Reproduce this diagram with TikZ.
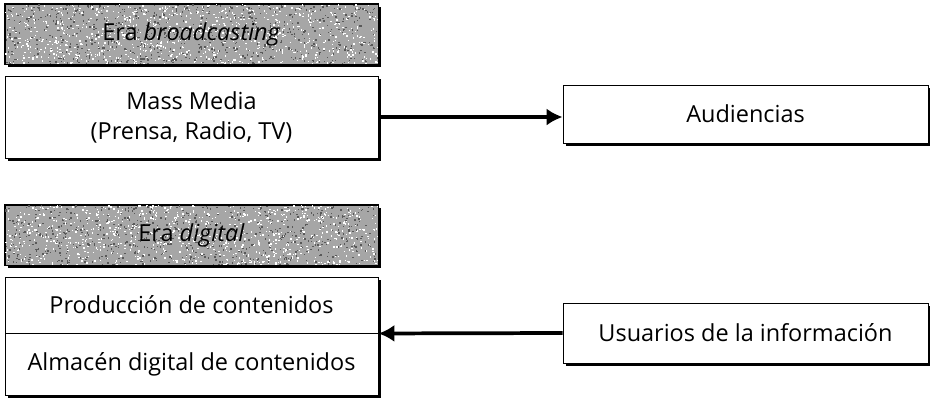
\documentclass[tikz,border=0pt]{standalone}
\usepackage{fontspec}
\setmainfont{Open Sans}
\usetikzlibrary{arrows.meta,shadows}
\begin{document}
\begin{tikzpicture}[x=0.75pt,y=-0.75pt,
  txt/.style={font=\fontsize{17.6}{22.5}\selectfont},
  box/.style={draw=black,line width=0.7pt,fill=white,inner sep=0pt,align=center,txt,
    drop shadow={shadow xshift=2pt,shadow yshift=-2pt,fill=black,opacity=1}},
  lbox/.style={box,minimum width=279.75pt},
  rbox/.style={box,minimum width=273.75pt},
  hdr/.style={lbox,fill=black!35,minimum height=45pt},
  conn/.style={line width=2.8pt,-{Latex[length=12pt,width=13pt]}}
]
\useasboundingbox (0,0) rectangle (930,397);
% headers
\node[hdr] (h1) at (191.5,34) {};
\node[hdr] (h2) at (191.5,235) {};
\pgfmathsetseed{7}
\foreach \yo in {4,205}{
  \begin{scope}
    \clip (5,\yo) rectangle (378,\yo+60);
    \foreach \i in {1,...,900}{
      \pgfmathsetmacro{\xx}{5+373*rnd}
      \pgfmathsetmacro{\yy}{\yo+60*rnd}
      \fill[white] (\xx,\yy) rectangle +(1.4,1.4);
    }
    \foreach \i in {1,...,700}{
      \pgfmathsetmacro{\xx}{5+373*rnd}
      \pgfmathsetmacro{\yy}{\yo+60*rnd}
      \fill[black!65] (\xx,\yy) rectangle +(1.4,1.4);
    }
  \end{scope}
}
\draw[line width=0.7pt] (h1.south west) rectangle (h1.north east);
\draw[line width=0.7pt] (h2.south west) rectangle (h2.north east);
\node[txt] (t1) at (h1.center) {Era \textit{broadcasting}};
\node[txt] (t2) at (h2.center) {Era \textit{digital}};
% boxes
\node[lbox,minimum height=61.5pt] (mass) at (191.5,117) {Mass Media\\(Prensa, Radio, TV)};
\node[rbox,minimum height=43.5pt] (aud) at (745.5,114) {Audiencias};
\node[lbox,minimum height=42pt] (prod) at (191.5,305) {Producción de contenidos};
\node[lbox,minimum height=46.5pt] (alm) at (191.5,364) {Almacén digital de contenidos};
\node[rbox,minimum height=45pt] (usu) at (745.5,333) {Usuarios de la información};
% connectors
\draw[conn] (mass.east) -- (mass.east -| aud.west);
\draw[conn] (usu.west) -- (prod.south east);
\end{tikzpicture}
\end{document}
